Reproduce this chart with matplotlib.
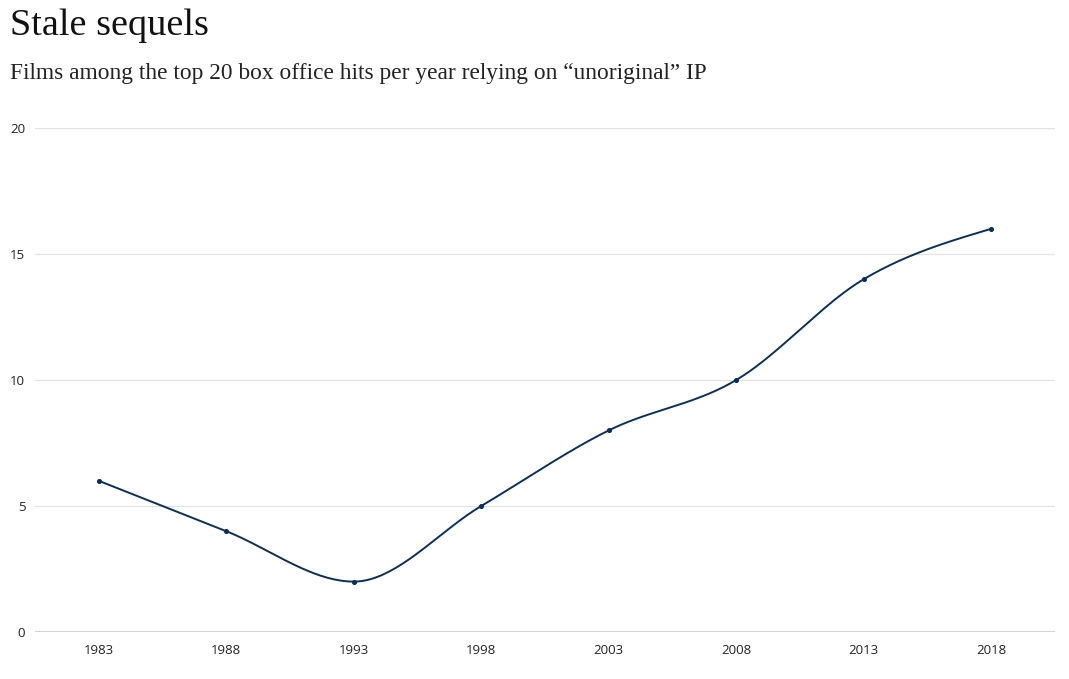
import numpy as np
import matplotlib
matplotlib.use("Agg")
import matplotlib.pyplot as plt

years = [1983, 1988, 1993, 1998, 2003, 2008, 2013, 2018]
films = [6, 4, 2, 5, 8, 10, 14, 16]
y_ticks = [0, 5, 10, 15, 20]

title = "Stale sequels"
subtitle = "Films among the top 20 box office hits per year relying on \u201cunoriginal\u201d IP"

LINE = "#0b2f5c"


def monotone_x(x, y, n=40):
    x = np.asarray(x, float); y = np.asarray(y, float)
    h = np.diff(x); s = np.diff(y) / h
    m = np.zeros_like(y)
    for i in range(1, len(x) - 1):
        if s[i - 1] * s[i] <= 0:
            m[i] = 0
        else:
            p = (s[i - 1] * h[i] + s[i] * h[i - 1]) / (h[i - 1] + h[i])
            m[i] = (np.sign(s[i - 1]) + np.sign(s[i])) * min(abs(s[i - 1]), abs(s[i]), 0.5 * abs(p))
    m[0] = (3 * s[0] - m[1]) / 2 if len(x) > 2 else s[0]
    m[-1] = (3 * s[-1] - m[-2]) / 2 if len(x) > 2 else s[-1]
    xs, ys = [], []
    for i in range(len(x) - 1):
        t = np.linspace(0, 1, n)
        h00 = 2 * t**3 - 3 * t**2 + 1
        h10 = t**3 - 2 * t**2 + t
        h01 = -2 * t**3 + 3 * t**2
        h11 = t**3 - t**2
        xs.append(x[i] + t * h[i])
        ys.append(h00 * y[i] + h10 * h[i] * m[i] + h01 * y[i + 1] + h11 * h[i] * m[i + 1])
    return np.concatenate(xs), np.concatenate(ys)


fig = plt.figure(figsize=(10.69, 6.79), dpi=100)
ax = fig.add_axes([35 / 1069, 1 - 632 / 679, (1055 - 35) / 1069, (632 - 128) / 679])

cx, cy = monotone_x(years, films)
ax.plot(cx, cy, color=LINE, lw=1.4, solid_capstyle="round", zorder=3)
ax.scatter(years, films, s=7, color=LINE, zorder=4)

ax.set_xlim(years[0] - 2.5, years[-1] + 2.5)
ax.set_ylim(0, 20)
ax.set_yticks(y_ticks)
ax.set_xticks(years)
ax.set_xticklabels([str(y) for y in years])
for v in y_ticks:
    if v == 0:
        ax.axhline(v, color="#cfcfcf", lw=1.3, zorder=1)
    else:
        ax.axhline(v, color="#e3e3e3", lw=0.9, zorder=1)
for s in ax.spines.values():
    s.set_visible(False)
ax.tick_params(axis="both", length=0, labelsize=9.5, labelcolor="#222222")
ax.tick_params(axis="y", pad=7)
ax.tick_params(axis="x", pad=9)
for lab in ax.get_xticklabels() + ax.get_yticklabels():
    lab.set_fontfamily("Open Sans")

fig.text(10 / 1069, 1 - 26 / 679, title, fontsize=27.5, family="Liberation Serif",
         color="#111111", va="center", ha="left")
fig.text(10 / 1069, 1 - 74 / 679, subtitle, fontsize=16.8, family="Liberation Serif",
         color="#222222", va="center", ha="left")

fig.savefig("out.png", dpi=100, facecolor="white")
